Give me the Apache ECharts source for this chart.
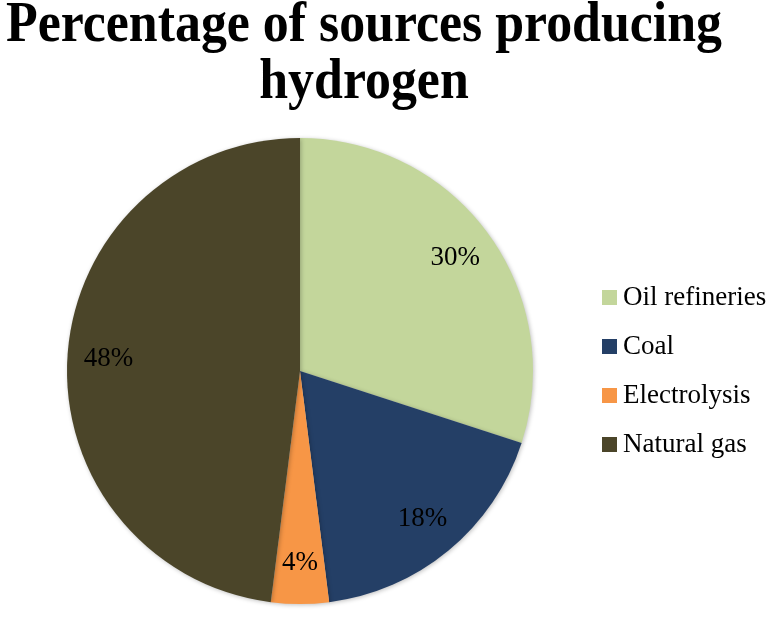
<!DOCTYPE html>
<html>
<head>
<meta charset="utf-8">
<script src="https://cdn.jsdelivr.net/npm/echarts@6/dist/echarts.min.js"></script>
<style>html,body{margin:0;padding:0;background:#fff}#c{width:773px;height:620px}</style>
</head>
<body>
<div id="c"></div>
<script>
const titleLines = ['Percentage of sources producing', 'hydrogen'];
const categories = ['Oil refineries', 'Coal', 'Electrolysis', 'Natural gas'];
const values = [30, 18, 4, 48];
const colors = ['#c3d69b', '#243f66', '#f79646', '#4b4529'];

const data = categories.map((n, i) => ({ name: n, value: values[i], itemStyle: { color: colors[i] } }));
const serif = '"Liberation Serif", "Times New Roman", serif';

const chart = echarts.init(document.getElementById('c'), null, { renderer: 'canvas' });
chart.setOption({
  backgroundColor: '#fff',
  animation: false,
  graphic: titleLines.map((t, i) => ({
    type: 'text',
    x: 364, y: 26 + i * 57,
    scaleX: 0.91,
    style: { text: t, fontFamily: serif, fontWeight: 'bold', fontSize: 57, fill: '#000', align: 'center', verticalAlign: 'middle' }
  })),
  legend: {
    orient: 'vertical',
    left: 597, top: 279,
    itemWidth: 15, itemHeight: 15,
    itemGap: 22,
    icon: 'rect',
    textStyle: { fontFamily: serif, fontSize: 27, color: '#000', padding: [0, 0, 0, 1] },
    data: categories
  },
  series: [
    {
      type: 'pie',
      center: [300, 371],
      radius: [0, 233],
      startAngle: 90,
      clockwise: true,
      label: { show: false },
      labelLine: { show: false },
      itemStyle: { shadowBlur: 4, shadowColor: 'rgba(0,0,0,0.25)', shadowOffsetX: 1, shadowOffsetY: 1 },
      data: data
    },
    {
      type: 'pie',
      center: [300, 371],
      radius: [145, 233],
      startAngle: 90,
      clockwise: true,
      silent: true,
      itemStyle: { color: 'transparent' },
      label: { show: true, position: 'inside', formatter: '{d}%', fontFamily: serif, fontSize: 27, color: '#000' },
      labelLine: { show: false },
      legendHoverLink: false,
      data: categories.map((n, i) => ({ name: n + ' ', value: values[i] }))
    }
  ]
});
</script>
</body>
</html>
